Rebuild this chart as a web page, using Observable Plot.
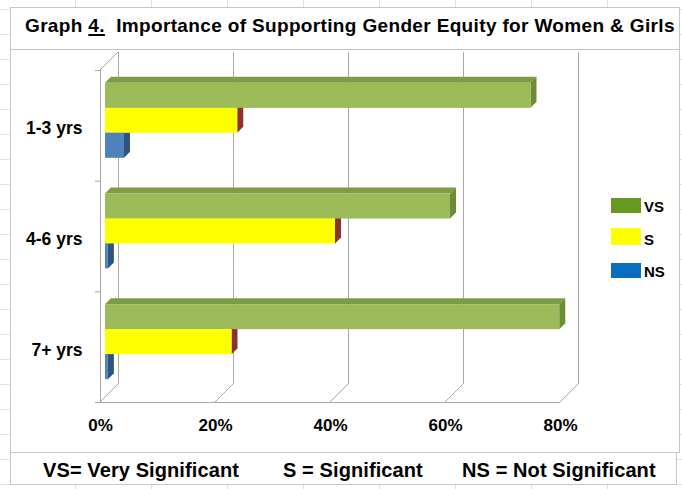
<!DOCTYPE html>
<html><head><meta charset="utf-8">
<script src="https://cdn.jsdelivr.net/npm/d3@7"></script>
<script src="https://cdn.jsdelivr.net/npm/@observablehq/plot@0.6"></script>
<style>
html,body{margin:0;padding:0}
body{width:682px;height:489px;position:relative;overflow:hidden;
 font-family:"Liberation Sans",Arial,sans-serif;font-weight:bold;color:#000;background-color:#fff;
 background-image:repeating-linear-gradient(to right, transparent 0 75px, #e2e2e2 75px 76px),
                  repeating-linear-gradient(to bottom, transparent 0 9px, #e2e2e2 9px 10px, transparent 10px 25px);}
.box{position:absolute;background:#fff;border:1px solid #c6c6c6;box-sizing:border-box}
#title{position:absolute;left:25px;top:16px;font-size:19px;line-height:19px;letter-spacing:0.35px;white-space:nowrap}
#title u{text-decoration-thickness:2px;text-underline-offset:2px}
.cap{position:absolute;top:460px;font-size:20px;line-height:20px;letter-spacing:0.1px;white-space:nowrap}
#chart{position:absolute;left:0;top:49px}
.sw{position:absolute;left:611px;width:30px;height:15px}
.lt{position:absolute;left:644px;font-size:15px;line-height:15px}
</style></head>
<body>
<div class="box" style="left:10px;top:7px;width:670px;height:43px"></div>
<div class="box" style="left:10px;top:49px;width:670px;height:404px"></div>
<div class="box" style="left:10px;top:452px;width:667px;height:33px"></div>
<div id="title"></div>
<div id="chart"></div>
<div id="legend"></div>
<div id="caption"></div>
<script>
// ---- data ----
const groups = ["1-3 yrs", "4-6 yrs", "7+ yrs"];
const seriesKeys = ["VS", "S", "NS"];
const vsValues = [0.74, 0.60, 0.79];
const sValues = [0.23, 0.40, 0.22];
const nsValues = [0.033, 0.005, 0.005];
const xTicks = [0, 0.2, 0.4, 0.6, 0.8];
const legendLabels = ["VS", "S", "NS"];
const captionItems = ["VS= Very Significant", "S = Significant", "NS = Not Significant"];
const titlePrefix = "Graph";
const titleNumber = "4.";
const titleText = "Importance of Supporting Gender Equity for Women & Girls";

// ---- styles ----
const frontColors = ["#9BBB59", "#FFFF00", "#4F81BD"];
const topColors = ["#7E9C45", "#C9C400", "#3B6496"];
const sideColors = ["#6E8B36", "#8E3230", "#2E5383"];
const legendColors = ["#66991F", "#FFFF00", "#0B6DC0"];
const gridColor = "#a8a8a8";
const PAD = 0.1615, BW = 0.2257; // sub-band layout within each group
const F = 5, D = 6, W = 18;       // 3D offsets in px

const rows = groups.flatMap((g, gi) =>
  [vsValues, sValues, nsValues].map((arr, si) => ({group: g, gi, series: seriesKeys[si], si, value: arr[gi]})));
const y1 = d => d.gi + PAD + d.si * BW;
const y2 = d => d.gi + PAD + (d.si + 1) * BW;

function depthFaces(index, scales) {
  const {x, y} = scales;
  const g = d3.create("svg:g");
  const yTop = y(0), yBot = y(groups.length);
  for (const t of xTicks) {
    g.append("line").attr("x1", x(t)).attr("y1", yBot).attr("x2", x(t) + W).attr("y2", yBot - W)
      .attr("stroke", gridColor);
  }
  g.append("line").attr("x1", x(0)).attr("y1", yTop).attr("x2", x(0) + W).attr("y2", yTop - W)
    .attr("stroke", gridColor);
  const poly = (pts, fill) => g.append("polygon").attr("points", pts.map(p => p.join(",")).join(" ")).attr("fill", fill);
  for (const r of rows) {
    const xa = x(0) + F, xb = x(r.value) + F, ya = y(y1(r)) - F;
    poly([[xa, ya], [xa + D, ya - D], [xb + D, ya - D], [xb, ya]], topColors[r.si]);
  }
  for (const r of rows) {
    const xb = x(r.value) + F, ya = y(y1(r)) - F, yb = y(y2(r)) - F;
    poly([[xb, ya], [xb + D, ya - D], [xb + D, yb - D], [xb, yb]], sideColors[r.si]);
  }
  return g.node();
}

const plot = Plot.plot({
  width: 682, height: 404,
  marginLeft: 100, marginRight: 122, marginTop: 21, marginBottom: 51,
  style: {background: "none", fontFamily: "Liberation Sans, Arial, sans-serif", fontWeight: "bold", color: "#000"},
  x: {domain: [0, 0.8]},
  y: {domain: [0, groups.length], reverse: true},
  color: {domain: seriesKeys, range: frontColors},
  marks: [
    Plot.ruleX(xTicks, {x: d => d, y1: 0, y2: groups.length, dx: W, dy: -W, stroke: gridColor}),
    Plot.ruleX([0], {y1: 0, y2: groups.length, stroke: gridColor}),
    Plot.ruleY([groups.length], {x1: 0, x2: 0.8, stroke: gridColor}),
    depthFaces,
    Plot.rectX(rows, {x1: 0, x2: "value", y1, y2, fill: "series", dx: F, dy: -F}),
    Plot.axisX(xTicks, {tickFormat: d3.format(".0%"), tickSize: 0, tickPadding: 16, fontSize: 17, fontWeight: "bold", label: null}),
    Plot.axisY(d3.range(groups.length + 1), {tickSize: 5, tickFormat: () => "", stroke: gridColor, label: null}),
    Plot.axisY(groups.map((g, i) => i + 0.5), {tickFormat: d => groups[Math.floor(d)], tickSize: 0, tickPadding: 18, fontSize: 17.5, fontWeight: "bold", dy: 3, label: null})
  ]
});
document.getElementById("chart").appendChild(plot);

// title
const t = document.getElementById("title");
t.append(titlePrefix + " ");
const u = document.createElement("u"); u.textContent = titleNumber; t.append(u);
t.append("\u00a0 " + titleText);

// legend
const legendTops = [198, 228, 263];
const lg = document.getElementById("legend");
legendLabels.forEach((l, i) => {
  const s = document.createElement("div"); s.className = "sw";
  s.style.top = legendTops[i] + "px"; s.style.background = legendColors[i];
  if (i === 1) s.style.height = "17px";
  lg.appendChild(s);
  const tx = document.createElement("div"); tx.className = "lt"; tx.textContent = l;
  tx.style.top = (legendTops[i] + (i === 1 ? 4 : 1)) + "px";
  lg.appendChild(tx);
});

// caption
const capLefts = [43, 283, 462];
const cp = document.getElementById("caption");
captionItems.forEach((c, i) => {
  const d = document.createElement("div"); d.className = "cap"; d.textContent = c;
  d.style.left = capLefts[i] + "px"; cp.appendChild(d);
});
</script>
</body></html>
